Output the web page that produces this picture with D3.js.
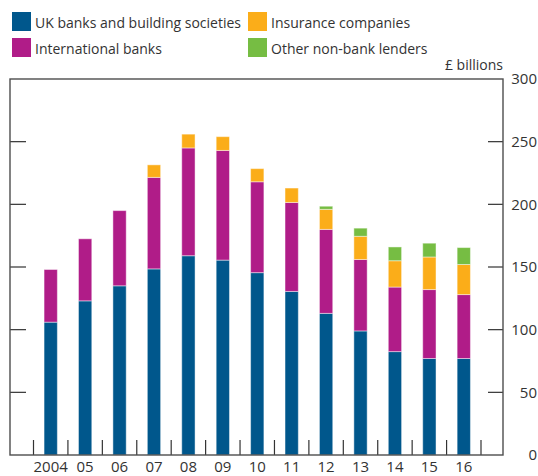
<!DOCTYPE html>
<html>
<head>
<meta charset="utf-8">
<script src="https://cdn.jsdelivr.net/npm/d3@7"></script>
<style>
    body { margin: 0; background: #fff; }
    svg { display: block; font-family: "Open Sans", "DejaVu Sans", sans-serif; }
    .frame { fill: none; stroke: #4d4d4d; stroke-width: 1.4; }
    .tick-line { stroke: #333; stroke-width: 1.2; }
    .label { fill: #333; }
</style>
</head>
<body>
<div id="chart"></div>
<script>
let years = ["2004", "05", "06", "07", "08", "09", "10", "11", "12", "13", "14", "15", "16"];
let ukBanks = [106, 123, 135, 148.5, 159, 155.5, 145.5, 130.5, 113, 99, 82.5, 77, 77];
let intlBanks = [42, 49.5, 60, 73, 86, 87.5, 72.5, 71, 67, 57, 51.5, 55, 51];
let insurance = [0, 0, 0, 10, 11, 11, 10.5, 11.5, 16, 18.5, 21, 26, 24];
let otherLenders = [0, 0, 0, 0, 0, 0, 0, 0, 2.5, 6.5, 11, 11, 13.5];
let yTicks = [0, 50, 100, 150, 200, 250, 300];

let seriesNames = ["UK banks and building societies", "International banks", "Insurance companies", "Other non-bank lenders"];
let seriesColors = ["#00578c", "#b01c88", "#fbad19", "#76bd43"];

let width = 538, height = 476;
let box = {left: 10, right: 503, top: 79, bottom: 455};

let rows = years.map(function(y, i){
    return {year: y, uk: ukBanks[i], intl: intlBanks[i], ins: insurance[i], other: otherLenders[i]};
});
let keys = ["uk", "intl", "ins", "other"];
let stacked = d3.stack().keys(keys)(rows);

let svg = d3.select("#chart").append("svg")
    .attr("width", width)
    .attr("height", height);

let xScale = d3.scaleBand()
    .domain(years)
    .range([33.5, 481])
    .padding(0);

let yScale = d3.scaleLinear()
    .domain([0, 300])
    .range([box.bottom, box.top]);

let barWidth = 13.3;

// bars
let layers = svg.append("g").selectAll("g")
    .data(stacked)
    .enter()
    .append("g")
    .attr("fill", function(d, i){ return seriesColors[i]; });

layers.selectAll("rect")
    .data(function(d){ return d.filter(function(p){ return p[1] - p[0] > 0; }); })
    .enter()
    .append("rect")
    .attr("x", function(d){ return xScale(d.data.year) + (xScale.bandwidth() - barWidth) / 2; })
    .attr("width", barWidth)
    .attr("y", function(d){ return yScale(d[1]); })
    .attr("height", function(d){ return yScale(d[0]) - yScale(d[1]); })
    .attr("stroke", "rgba(255,255,255,0.45)")
    .attr("stroke-width", 1);

// y ticks, inside the frame on both sides
let yInner = yTicks.filter(function(t){ return t > 0 && t < 300; });
svg.append("g").selectAll("line")
    .data(yInner)
    .enter()
    .append("line")
    .attr("class", "tick-line")
    .attr("x1", box.left).attr("x2", box.left + 16)
    .attr("y1", function(d){ return yScale(d); })
    .attr("y2", function(d){ return yScale(d); });

svg.append("g").selectAll("line")
    .data(yInner)
    .enter()
    .append("line")
    .attr("class", "tick-line")
    .attr("x1", box.right - 15).attr("x2", box.right)
    .attr("y1", function(d){ return yScale(d); })
    .attr("y2", function(d){ return yScale(d); });

svg.append("g").selectAll("text")
    .data(yTicks)
    .enter()
    .append("text")
    .attr("class", "label")
    .attr("x", 537)
    .attr("y", function(d){ return yScale(d); })
    .attr("dy", "0.36em")
    .attr("text-anchor", "end")
    .style("font-size", "15px")
    .text(function(d){ return d; });

// x ticks between bars
let xTickPos = years.map(function(y){ return xScale(y); }).concat([xScale.range()[1]]);
svg.append("g").selectAll("line")
    .data(xTickPos)
    .enter()
    .append("line")
    .attr("class", "tick-line")
    .attr("x1", function(d){ return d; })
    .attr("x2", function(d){ return d; })
    .attr("y1", box.bottom - 15)
    .attr("y2", box.bottom);

svg.append("g").selectAll("text")
    .data(years)
    .enter()
    .append("text")
    .attr("class", "label")
    .attr("x", function(d){ return xScale(d) + xScale.bandwidth() / 2; })
    .attr("y", 472)
    .attr("text-anchor", "middle")
    .style("font-size", "15px")
    .text(function(d){ return d; });

// frame
svg.append("rect")
    .attr("class", "frame")
    .attr("x", box.left)
    .attr("y", box.top)
    .attr("width", box.right - box.left)
    .attr("height", box.bottom - box.top);

svg.append("text")
    .attr("class", "label")
    .attr("x", box.right)
    .attr("y", 70)
    .attr("text-anchor", "end")
    .style("font-size", "14px")
    .text("£ billions");

// legend
let legendPos = [[12, 12], [12, 38], [248, 12], [248, 38]];
let legend = svg.append("g").selectAll("g")
    .data(seriesNames)
    .enter()
    .append("g")
    .attr("transform", function(d, i){ return "translate(" + legendPos[i][0] + "," + legendPos[i][1] + ")"; });

legend.append("rect")
    .attr("width", 19)
    .attr("height", 19)
    .attr("fill", function(d, i){ return seriesColors[i]; });

legend.append("text")
    .attr("class", "label")
    .attr("x", 23)
    .attr("y", 16)
    .style("font-size", "14px")
    .text(function(d){ return d; });
</script>
</body>
</html>
